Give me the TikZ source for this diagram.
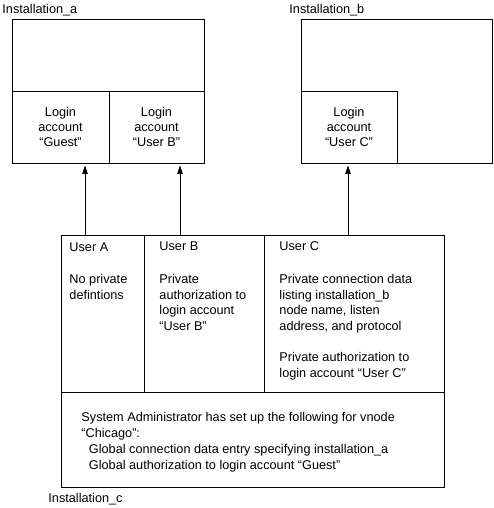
\documentclass[tikz,border=0pt]{standalone}
\usepackage{fontspec}
\setmainfont{Liberation Sans}
\usetikzlibrary{arrows.meta}
\begin{document}
\begin{tikzpicture}[x=1pt, y=-1pt, line width=0.9pt,
    cell/.style={draw, inner sep=0pt, align=center, font=\fontsize{12.7}{15}\selectfont},
    col/.style={draw, inner sep=0pt, anchor=north west},
    txt/.style={inner sep=0pt, anchor=base west, align=left, font=\fontsize{12.7}{15.7}\selectfont},
    arr/.style={-{Triangle[length=8.5pt, width=5.5pt]}, shorten >=2pt}]
  \useasboundingbox (0,0) rectangle (493,508);

  % Installation_a: upper part and two login accounts
  \draw (12,19) rectangle (204,91);
  \node[cell, minimum width=97pt, minimum height=72pt] (guest) at (60.5,127) {Login\\account\\“Guest”};
  \node[cell, minimum width=95pt, minimum height=72pt] (loginB) at (156.5,127) {Login\\account\\“User B”};
  \node[txt] (insta) at (2,14) {Installation\_a};

  % Installation_b: outer box and one login account in its lower left corner
  \draw (301,19) rectangle (492,163);
  \node[cell, minimum width=96pt, minimum height=72pt] (loginC) at (349,127) {Login\\account\\“User C”};
  \node[txt] (instb) at (289,14) {Installation\_b};

  % Installation_c: three user columns above the administrator part
  \node[col, minimum width=83pt, minimum height=157pt] (colA) at (61,235) {};
  \node[col, minimum width=120pt, minimum height=157pt] (colB) at (144,235) {};
  \node[col, minimum width=180pt, minimum height=157pt] (colC) at (264,235) {};
  \node[col, minimum width=383pt, minimum height=95pt] (admin) at (61,392) {};
  \node[txt] (instc) at (48,502.5) {Installation\_c};

  % multi-line texts sit on the baseline of their last line
  \node[txt] (headA) at (69,251) {User A};
  \node[txt] (bodyA) at (69,299.2) {No private\\defintions};
  \node[txt] (headB) at (159,250) {User B};
  \node[txt] (bodyB) at (159,330.6) {Private\\authorization to\\login account\\“User B”};
  \node[txt] (headC) at (279,250) {User C};
  \node[txt] (bodyC) at (279,330.6) {Private connection data\\listing installation\_b\\node name, listen\\address, and protocol};
  \node[txt] (authC) at (279,377.2) {Private authorization to\\login account “User C”};
  \node[txt, font=\fontsize{12.7}{16}\selectfont] (textadm) at (81,469.5)
    {System Administrator has set up the following for vnode\\“Chicago”:\\
     \hspace*{7.5pt}Global connection data entry specifying installation\_a\\
     \hspace*{7.5pt}Global authorization to login account “Guest”};

  % connections from the users to the login accounts
  \coordinate (tipA) at (85,163);
  \coordinate (tipB) at (180,163);
  \coordinate (tipC) at (348,163);
  \draw[arr] (colA.north -| tipA) -- (guest.south -| tipA);
  \draw[arr] (colB.north -| tipB) -- (loginB.south -| tipB);
  \draw[arr] (colC.north -| tipC) -- (loginC.south -| tipC);
\end{tikzpicture}
\end{document}
